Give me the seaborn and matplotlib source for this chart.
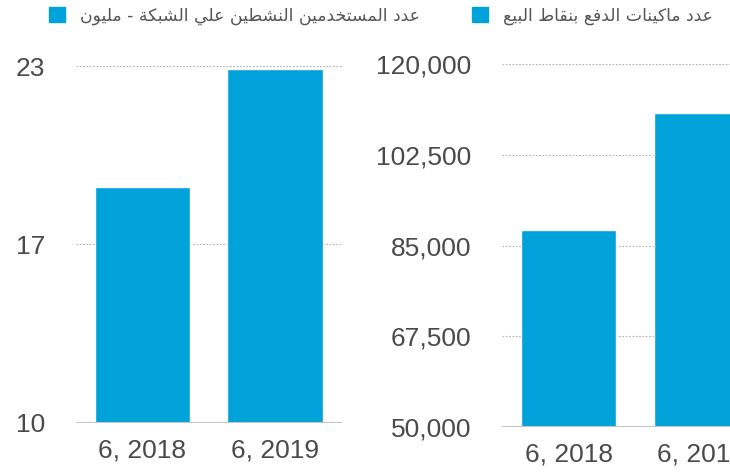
import matplotlib
matplotlib.use("Agg")
import matplotlib.pyplot as plt
from matplotlib.patches import Rectangle
import seaborn as sns
import pandas as pd

# data
periods = ["6, 2018", "6, 2019"]
users_millions = [18.6, 22.9]
pos_machines = [88000, 110500]
users_ticks = [10, 16.5, 23]
users_tick_labels = ["10", "17", "23"]
pos_ticks = [50000, 67500, 85000, 102500, 120000]
users_title = "عدد المستخدمين النشطين علي الشبكة - مليون"
pos_title = "عدد ماكينات الدفع بنقاط البيع"

BLUE = "#00a3d9"
TEXT = "#4a4a4a"

# minimal arabic shaping (matplotlib has no bidi / joining support)
FORMS = {
    "ا": ("\ufe8d", "\ufe8e", None, None),
    "ب": ("\ufe8f", "\ufe90", "\ufe91", "\ufe92"),
    "ة": ("\ufe93", "\ufe94", None, None),
    "ت": ("\ufe95", "\ufe96", "\ufe97", "\ufe98"),
    "خ": ("\ufea5", "\ufea6", "\ufea7", "\ufea8"),
    "د": ("\ufea9", "\ufeaa", None, None),
    "س": ("\ufeb1", "\ufeb2", "\ufeb3", "\ufeb4"),
    "ش": ("\ufeb5", "\ufeb6", "\ufeb7", "\ufeb8"),
    "ط": ("\ufec1", "\ufec2", "\ufec3", "\ufec4"),
    "ع": ("\ufec9", "\ufeca", "\ufecb", "\ufecc"),
    "ف": ("\ufed1", "\ufed2", "\ufed3", "\ufed4"),
    "ق": ("\ufed5", "\ufed6", "\ufed7", "\ufed8"),
    "ك": ("\ufed9", "\ufeda", "\ufedb", "\ufedc"),
    "ل": ("\ufedd", "\ufede", "\ufedf", "\ufee0"),
    "م": ("\ufee1", "\ufee2", "\ufee3", "\ufee4"),
    "ن": ("\ufee5", "\ufee6", "\ufee7", "\ufee8"),
    "و": ("\ufeed", "\ufeee", None, None),
    "ي": ("\ufef1", "\ufef2", "\ufef3", "\ufef4"),
}


def shape_ar(s):
    out = []
    for i, ch in enumerate(s):
        if ch not in FORMS:
            out.append(ch)
            continue
        prev = s[i - 1] if i > 0 else ""
        nxt = s[i + 1] if i + 1 < len(s) else ""
        join_prev = prev in FORMS and FORMS[prev][2] is not None
        join_next = FORMS[ch][2] is not None and nxt in FORMS
        iso, fin, ini, med = FORMS[ch]
        if join_prev and join_next:
            out.append(med)
        elif join_prev:
            out.append(fin)
        elif join_next:
            out.append(ini)
        else:
            out.append(iso)
    return "".join(out)[::-1]


sns.set_style("white")
plt.rcParams["font.family"] = ["Liberation Sans", "DejaVu Sans"]

fig = plt.figure(figsize=(7.3, 4.72), dpi=100)
ax1 = fig.add_axes([0.104, 0.104, 0.364, 0.756])
ax2 = fig.add_axes([0.688, 0.095, 0.364, 0.769])

df1 = pd.DataFrame({"period": periods, "value": users_millions})
df2 = pd.DataFrame({"period": periods, "value": pos_machines})

for ax, df, lo, hi, ticks in [
    (ax1, df1, 10, 23, users_ticks),
    (ax2, df2, 50000, 120000, pos_ticks),
]:
    sns.barplot(data=df, x="period", y="value", color=BLUE, width=0.72,
                saturation=1, ax=ax, zorder=3)
    ax.set_ylim(lo, hi)
    ax.set_xlim(-0.5, 1.5)
    ax.set_yticks(ticks)
    for t in ticks[1:]:
        ax.axhline(t, color="#b0b0b0", linestyle=(0, (1.5, 1.5)), linewidth=0.8, zorder=1)
    ax.axhline(lo, color="#c4c4c4", linewidth=1.5, zorder=4)
    ax.set_xlabel("")
    ax.set_ylabel("")
    for sp in ax.spines.values():
        sp.set_visible(False)
    ax.tick_params(axis="both", length=0, labelsize=19, colors=TEXT)
    ax.tick_params(axis="y", pad=22)
    ax.tick_params(axis="x", pad=11)

ax1.set_yticklabels(users_tick_labels)
ax2.set_yticklabels([f"{t:,}" for t in pos_ticks])

# legends
fig.patches.append(Rectangle((49 / 730, 1 - 22 / 472), 16 / 730, 15 / 472,
                             transform=fig.transFigure, color=BLUE))
fig.text(80 / 730, 1 - 16 / 472, shape_ar(users_title), fontsize=12.4,
         color="#555555", va="center", ha="left", family="DejaVu Sans")
fig.patches.append(Rectangle((472 / 730, 1 - 22 / 472), 16 / 730, 15 / 472,
                             transform=fig.transFigure, color=BLUE))
fig.text(503 / 730, 1 - 16 / 472, shape_ar(pos_title), fontsize=12.4,
         color="#555555", va="center", ha="left", family="DejaVu Sans")

fig.savefig("out.png", dpi=100)
